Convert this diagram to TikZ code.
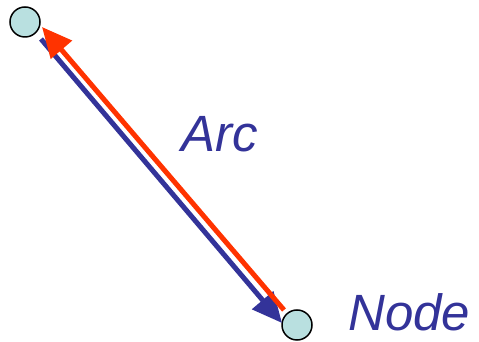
\documentclass[tikz,border=0pt]{standalone}
\usepackage{fontspec}
\setmainfont{Liberation Sans}
\usetikzlibrary{arrows.meta,calc}
\definecolor{arcblue}{HTML}{333399}
\definecolor{arcred}{HTML}{FF3300}
\definecolor{nodefill}{HTML}{B9E0E0}
\tikzset{
  gnode/.style={circle,draw=black,line width=1.5pt,fill=nodefill,minimum size=30pt,inner sep=0pt},
  bluearc/.style={draw=arcblue,line width=5pt,-{Triangle[length=30pt,width=27pt,fill=arcblue]}},
  redarc/.style={draw=arcred,line width=5pt,-{Triangle[length=30pt,width=27pt,fill=arcred]}},
  lbl/.style={text=arcblue,font=\itshape\fontsize{51}{51}\selectfont,inner sep=0pt,anchor=base west}
}
\begin{document}
\begin{tikzpicture}[x=1pt,y=1pt]
\useasboundingbox (0,0) rectangle (479,342);
\node[gnode] (A) at (25,320) {};
\node[gnode] (B) at (297,17) {};
\coordinate (bs) at (41,303);
\coordinate (bt) at (282,19);
\coordinate (rs) at (284,32);
\coordinate (rt) at (42,315);
\draw[bluearc] (bs) -- (bt);
\draw[redarc] (rs) -- (rt);
\node[lbl] (arc) at (181,190) {Arc};
\node[lbl] (node) at (348,11) {Node};
\end{tikzpicture}
\end{document}
